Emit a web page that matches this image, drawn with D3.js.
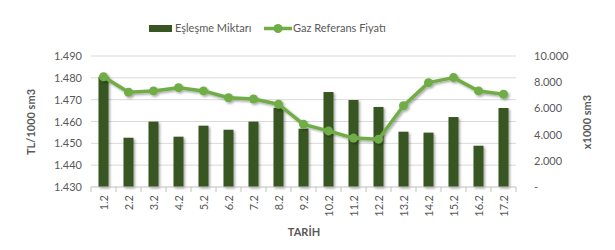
<!DOCTYPE html>
<html>
<head>
<meta charset="utf-8">
<script src="https://cdn.jsdelivr.net/npm/d3@7"></script>
<style>
  body { margin: 0; background: #fff; }
  svg { font-family: Lato, "Open Sans", sans-serif; }
</style>
</head>
<body>
<svg width="615" height="250"></svg>
<script>
// data
const dates = ["1.2", "2.2", "3.2", "4.2", "5.2", "6.2", "7.2", "8.2", "9.2",
               "10.2", "11.2", "12.2", "13.2", "14.2", "15.2", "16.2", "17.2"];
const amounts = [8420, 3760, 4990, 3840, 4680, 4370, 4990, 6050, 4450,
                 7250, 6640, 6110, 4220, 4150, 5340, 3150, 6030];
const prices = [1480.5, 1473.4, 1474.0, 1475.5, 1474.0, 1470.9, 1470.3, 1467.9, 1458.7,
                1455.7, 1452.4, 1451.9, 1467.2, 1477.8, 1480.1, 1474.0, 1472.5];
const leftTicks = [1430, 1440, 1450, 1460, 1470, 1480, 1490];
const rightTicks = [0, 2000, 4000, 6000, 8000, 10000];

const svg = d3.select("svg"),
    plotL = 91, plotR = 516, plotT = 56, plotB = 187;

const tr = d3.formatLocale({decimal: ",", thousands: ".", grouping: [3], currency: ["", " TL"]});
const fmt = tr.format(",d");

const x = d3.scaleBand().domain(dates).range([plotL, plotR]);
const yL = d3.scaleLinear().domain([1430, 1490]).range([plotB, plotT]);
const yR = d3.scaleLinear().domain([0, 10000]).range([plotB, plotT]);

const defs = svg.append("defs");
defs.append("filter").attr("id", "shadow")
    .attr("x", "-50%").attr("y", "-50%").attr("width", "200%").attr("height", "200%")
    .append("feDropShadow")
    .attr("dx", 1.5).attr("dy", 1.5).attr("stdDeviation", 1.2)
    .attr("flood-color", "#000").attr("flood-opacity", 0.35);

// gridlines
svg.append("g")
    .selectAll("line")
    .data(leftTicks.slice(1))
    .enter().append("line")
    .attr("x1", plotL).attr("x2", plotR)
    .attr("y1", d => yL(d)).attr("y2", d => yL(d))
    .attr("stroke", "#d9d9d9").attr("stroke-width", 1);

// bars
svg.append("g")
    .attr("filter", "url(#shadow)")
    .selectAll("rect")
    .data(amounts)
    .enter().append("rect")
    .attr("x", (d, i) => x(dates[i]) + x.bandwidth() / 2 - 5)
    .attr("width", 10)
    .attr("y", d => yR(d))
    .attr("height", d => plotB - yR(d))
    .attr("fill", "#375623");

// bottom axis
var xAxis = svg.append("g")
    .attr("transform", "translate(0," + plotB + ")");
xAxis.append("line")
    .attr("x1", plotL).attr("x2", plotR)
    .attr("stroke", "#bfbfbf");
xAxis.selectAll("line.tick")
    .data(d3.range(dates.length + 1))
    .enter().append("line")
    .attr("class", "tick")
    .attr("x1", i => plotL + i * x.step()).attr("x2", i => plotL + i * x.step())
    .attr("y1", 0).attr("y2", 5)
    .attr("stroke", "#bfbfbf");
xAxis.selectAll("text")
    .data(dates)
    .enter().append("text")
    .attr("transform", d => "translate(" + (x(d) + x.bandwidth() / 2 + 4) + ",8) rotate(-90)")
    .attr("text-anchor", "end")
    .attr("font-size", 11)
    .attr("fill", "#595959")
    .text(d => d);

// line
const line = d3.line()
    .x((d, i) => x(dates[i]) + x.bandwidth() / 2)
    .y(d => yL(d));

const lineG = svg.append("g").attr("filter", "url(#shadow)");
lineG.append("path")
    .datum(prices)
    .attr("d", line)
    .attr("fill", "none")
    .attr("stroke", "#70ad47")
    .attr("stroke-width", 3.5)
    .attr("stroke-linejoin", "round");
lineG.selectAll("circle")
    .data(prices)
    .enter().append("circle")
    .attr("cx", (d, i) => x(dates[i]) + x.bandwidth() / 2)
    .attr("cy", d => yL(d))
    .attr("r", 4.5)
    .attr("fill", "#70ad47");

// left labels
svg.append("g")
    .selectAll("text")
    .data(leftTicks)
    .enter().append("text")
    .attr("x", 82).attr("y", d => yL(d) + 4)
    .attr("text-anchor", "end")
    .attr("font-size", 11)
    .attr("fill", "#595959")
    .text(d => fmt(d));

// right labels
svg.append("g")
    .selectAll("text")
    .data(rightTicks)
    .enter().append("text")
    .attr("x", 534).attr("y", d => yR(d) + 4)
    .attr("font-size", 11)
    .attr("fill", "#595959")
    .text(d => d === 0 ? "-" : fmt(d));

// axis titles
svg.append("text")
    .attr("transform", "translate(35,122) rotate(-90)")
    .attr("text-anchor", "middle")
    .attr("font-size", 11).attr("font-weight", "bold")
    .attr("fill", "#595959")
    .text("TL/1000 sm3");
svg.append("text")
    .attr("transform", "translate(591,122) rotate(-90)")
    .attr("text-anchor", "middle")
    .attr("font-size", 11).attr("font-weight", "bold")
    .attr("fill", "#595959")
    .text("x1000 sm3");
svg.append("text")
    .attr("x", 304).attr("y", 236)
    .attr("text-anchor", "middle")
    .attr("font-size", 11).attr("font-weight", "bold")
    .attr("fill", "#595959")
    .text("TARİH");

// legend
const legend = svg.append("g");
legend.append("rect")
    .attr("x", 149).attr("y", 25).attr("width", 23).attr("height", 7)
    .attr("fill", "#375623");
legend.append("text")
    .attr("x", 175).attr("y", 32)
    .attr("font-size", 11).attr("fill", "#595959")
    .text("Eşleşme Miktarı");
legend.append("line")
    .attr("x1", 264).attr("x2", 292).attr("y1", 28.5).attr("y2", 28.5)
    .attr("stroke", "#70ad47").attr("stroke-width", 3.5);
legend.append("circle")
    .attr("cx", 278).attr("cy", 28.5).attr("r", 4.5)
    .attr("fill", "#70ad47");
legend.append("text")
    .attr("x", 293).attr("y", 32)
    .attr("font-size", 11).attr("fill", "#595959")
    .text("Gaz Referans Fiyatı");
</script>
</body>
</html>
